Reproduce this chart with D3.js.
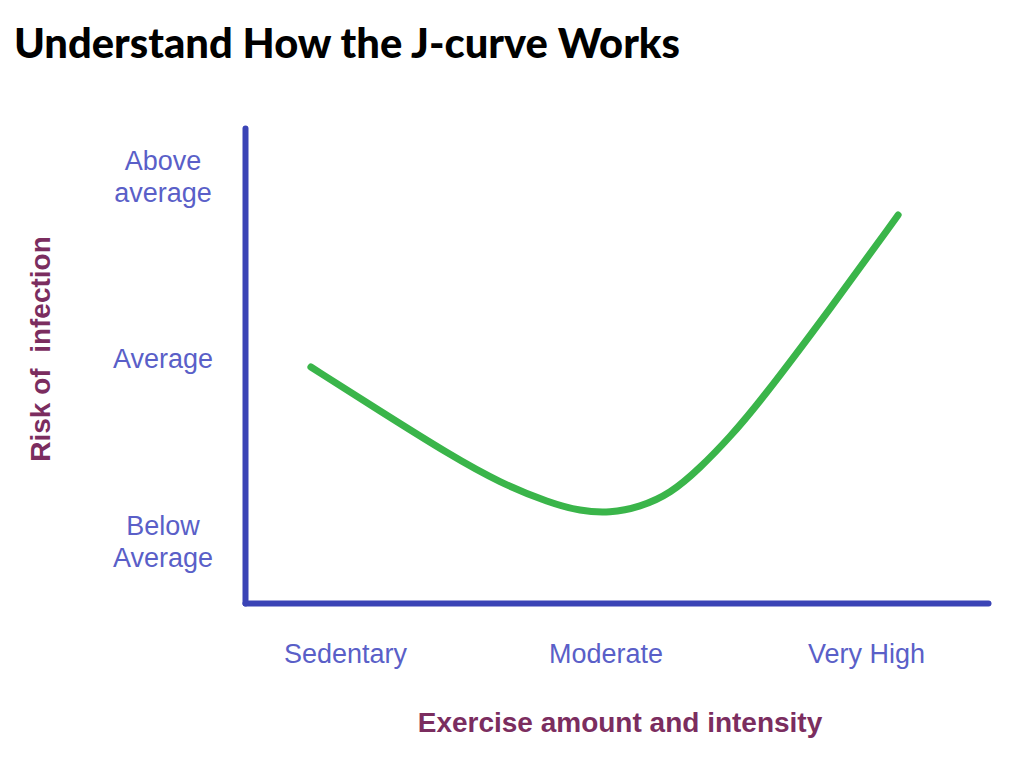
<!DOCTYPE html>
<html>
<head>
<meta charset="utf-8">
<script src="https://cdnjs.cloudflare.com/ajax/libs/d3/7.8.5/d3.min.js"></script>
<style>
  body { margin: 0; background: #fff; }
  .tick-label { font-family: "Liberation Sans", Arial, sans-serif; font-size: 27px; fill: #5a5fc8; }
  .axis-title { font-family: "Liberation Sans", Arial, sans-serif; font-size: 28px; font-weight: bold; fill: #7b2d5f; }
</style>
</head>
<body>
<div id="chart"></div>
<script>
// categories on each axis
const xCategories = ["Sedentary", "Moderate", "Very High"];
const yCategories = [["Below", "Average"], ["Average"], ["Above", "average"]];

// J-curve (x: 0 = Sedentary, 2 = Very High; y: 0 = below, 2 = above average)
const curveX = [-0.131, 0.134, 0.403, 0.595, 0.787, 0.902, 1.017, 1.132, 1.248, 1.363, 1.478, 1.593, 1.862, 2.123];
const curveY = [0.953, 0.712, 0.471, 0.318, 0.208, 0.164, 0.153, 0.186, 0.258, 0.400, 0.570, 0.762, 1.271, 1.786];

const width = 1024, height = 784;
const margin = { top: 128, right: 36, bottom: 181, left: 245 };

const svg = d3.select("#chart").append("svg")
    .attr("width", width)
    .attr("height", height);

svg.append("text")
    .attr("x", 14)
    .attr("y", 58)
    .attr("font-family", "Lato, 'Open Sans', sans-serif")
    .attr("font-weight", 900)
    .attr("font-size", 41)
    .attr("textLength", 666)
    .attr("lengthAdjust", "spacingAndGlyphs")
    .attr("fill", "#000")
    .text("Understand How the J-curve Works");

const x = d3.scaleLinear()
    .domain([-0.384, 2.468])
    .range([margin.left, width - margin.right]);

const y = d3.scaleLinear()
    .domain([-0.34, 2.263])
    .range([height - margin.bottom, margin.top]);

// x axis
const xAxis = svg.append("g")
    .attr("transform", `translate(0,${height - margin.bottom})`)
    .call(d3.axisBottom(x)
        .tickValues(d3.range(xCategories.length))
        .tickFormat(i => xCategories[i])
        .tickSize(0)
        .tickSizeOuter(0)
        .tickPadding(41));
xAxis.select(".domain")
    .attr("stroke", "#3b44b6")
    .attr("stroke-width", 6)
    .attr("stroke-linecap", "round");
xAxis.selectAll(".tick text")
    .attr("class", "tick-label")
    .attr("font-size", null)
    .attr("font-family", null)
    .attr("fill", null);

// y axis
const yAxis = svg.append("g")
    .attr("transform", `translate(${margin.left},0)`)
    .call(d3.axisLeft(y)
        .tickValues(d3.range(yCategories.length))
        .tickFormat("")
        .tickSize(0)
        .tickSizeOuter(0));
yAxis.select(".domain")
    .attr("stroke", "#3b44b6")
    .attr("stroke-width", 6)
    .attr("stroke-linecap", "round");

yAxis.selectAll(".tick").each(function(d) {
    const lines = yCategories[d];
    const t = d3.select(this).append("text")
        .attr("class", "tick-label")
        .attr("text-anchor", "middle")
        .attr("x", -82);
    lines.forEach((line, i) => {
        t.append("tspan")
            .attr("x", -82)
            .attr("y", (i - (lines.length - 1) / 2) * 32)
            .attr("dy", "0.35em")
            .text(line);
    });
});

// axis titles
svg.append("text")
    .attr("class", "axis-title")
    .attr("text-anchor", "middle")
    .attr("x", 620)
    .attr("y", 732)
    .text("Exercise amount and intensity");

svg.append("text")
    .attr("class", "axis-title")
    .attr("text-anchor", "middle")
    .attr("transform", "translate(50,349) rotate(-90)")
    .style("white-space", "pre")
    .text("Risk of  infection");

// the curve
const line = d3.line()
    .x(d => x(d[0]))
    .y(d => y(d[1]))
    .curve(d3.curveBasis);

svg.append("path")
    .datum(d3.zip(curveX, curveY))
    .attr("fill", "none")
    .attr("stroke", "#3ab54a")
    .attr("stroke-width", 7)
    .attr("stroke-linecap", "round")
    .attr("d", line);
</script>
</body>
</html>
